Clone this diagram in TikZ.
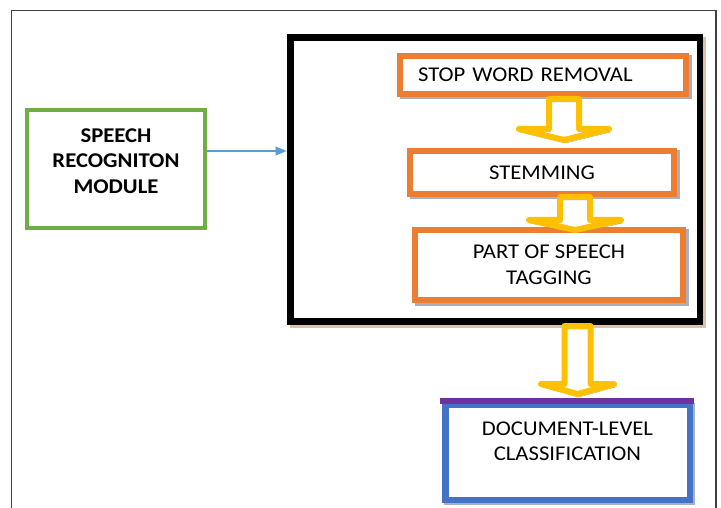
\documentclass[tikz,border=0pt]{standalone}
\usepackage{fontspec}
\setmainfont{Carlito}[FakeStretch=1.08]
\usetikzlibrary{arrows.meta,shadows}
\definecolor{orangeb}{HTML}{ED7D31}
\definecolor{yellowa}{HTML}{FFC000}
\definecolor{blueb}{HTML}{4472C4}
\definecolor{purplel}{HTML}{7030A0}
\definecolor{greenb}{HTML}{70AD47}
\definecolor{bluearrow}{HTML}{5B9BD5}
\definecolor{framegray}{HTML}{404040}
\definecolor{shadowgray}{RGB}{168,176,192}
\definecolor{shadowtan}{RGB}{222,192,172}
\definecolor{arrowshadow}{RGB}{150,158,128}
\newcommand{\hollowarrow}[6]{% start, shaft width, shaft length, head extra, head height
  \draw[yarrow] #1 -- ++(0,#3) -- ++(-#4,0) -- ++(#4+#2/2,#5) -- ++(#4+#2/2,-#5) -- ++(-#4,0) -- ++(0,-#3) -- cycle;}
\begin{document}
\begin{tikzpicture}[x=1pt,y=-1pt,
  font=\fontsize{21}{25.5}\selectfont,
  box/.style={draw, fill=white, rectangle, outer sep=0pt, inner sep=0pt},
  orangebox/.style={box, draw=orangeb, line width=6pt,
    drop shadow={shadow xshift=2.5pt, shadow yshift=-2.5pt, opacity=1, fill=none, draw=shadowgray}},
  blackbox/.style={box, draw=black, line width=6.5pt,
    drop shadow={shadow xshift=2.5pt, shadow yshift=-3pt, opacity=1, fill=none, draw=shadowtan}},
  greenbox/.style={box, draw=greenb, line width=4.5pt},
  bluebox/.style={box, draw=blueb, line width=6.5pt,
    drop shadow={shadow xshift=1.5pt, shadow yshift=-1.5pt, opacity=1, fill=none, draw=shadowgray}},
  yarrow/.style={draw=yellowa, line width=6pt, line join=round,
    preaction={draw=arrowshadow, transform canvas={shift={(1.5pt,-3pt)}}}},
  connector/.style={draw=bluearrow, line width=1.5pt, -{Triangle[length=11pt,width=9pt]}},
  purpleline/.style={draw=purplel, line width=5.5pt},
  framestyle/.style={draw=framegray, line width=1.5pt}]
\useasboundingbox (0,0) rectangle (721,508);
\clip (0,0) rectangle (721,508);
\draw[framestyle] (11.5,10.5) rectangle (716,540);

\node[blackbox, minimum width=409.5pt, minimum height=284pt] (pipe) at (495.25,179.5) {};

\node[greenbox, minimum width=178pt, minimum height=118pt,
  label={[align=center, font=\fontsize{21}{25.5}\selectfont\bfseries, yshift=8pt]center:SPEECH\\RECOGNITON\\MODULE}]
  (speech) at (116,169) {};

\coordinate (a1) at ([xshift=2pt,yshift=18pt]speech.east);
\draw[connector] (a1) -- (a1 -| pipe.west) [shorten >=4pt];

\node[orangebox, minimum width=286pt, minimum height=38pt, text width=250pt, inner xsep=18pt, align=left]
  (stop) at (543,75) {STOP WORD REMOVAL};
\node[orangebox, minimum width=264pt, minimum height=43pt] (stem) at (542,172.5) {STEMMING};
\node[orangebox, minimum width=268pt, minimum height=70pt, align=center] (pos) at (549,265) {PART OF SPEECH\\TAGGING};

\node[bluebox, minimum width=244.5pt, minimum height=94.75pt,
  label={[align=center, yshift=11pt]center:DOCUMENT-LEVEL\\CLASSIFICATION}]
  (doc) at (567.5,452.4) {};
\draw[purpleline] ([shift={(-5.5,-4)}]doc.north west) -- ([shift={(4,-4)}]doc.north east);

\hollowarrow{([shift={(6,5)}]stop.south)}{30}{30}{30}{11}{}
\hollowarrow{([shift={(18,3)}]stem.south)}{30}{23}{31}{10}{}
\hollowarrow{([shift={(69.25,4.5)}]pipe.south)}{26}{58}{23.5}{10}{}
\end{tikzpicture}
\end{document}
